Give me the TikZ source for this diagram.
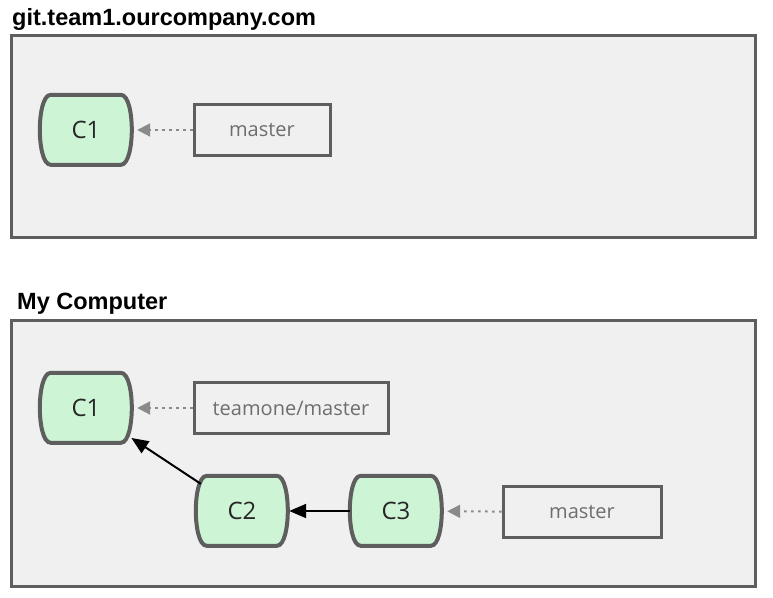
\documentclass[tikz,border=0pt]{standalone}
\usepackage{fontspec}
\setmainfont{Open Sans}
\newfontfamily\titlefont{Liberation Sans}
\usetikzlibrary{arrows.meta,backgrounds}
\definecolor{boxgray}{HTML}{F0F0F0}
\definecolor{edgegray}{HTML}{5E5E5E}
\definecolor{commitgreen}{HTML}{CDF4D5}
\definecolor{tipgray}{HTML}{8A8A8A}
\definecolor{labelgray}{HTML}{6E6E6E}
\begin{document}
\begin{tikzpicture}[x=1pt,y=1pt]
\tikzstyle{every node}+=[inner sep=0pt]
\tikzstyle{repo}=[draw=edgegray, fill=boxgray, line width=2.5pt, anchor=north west]
\tikzstyle{repotitle}=[anchor=base west, font=\titlefont\bfseries\fontsize{23.5}{28}\selectfont]
\tikzstyle{commit}=[minimum width=92pt, minimum height=70pt, font=\fontsize{24}{28}\selectfont, text=black!85]
\tikzstyle{commitshape}=[draw=edgegray, fill=commitgreen, line width=4pt]
\tikzstyle{branch}=[draw=edgegray, line width=3pt, minimum height=51pt, font=\fontsize{20}{24}\selectfont, text=labelgray]
\tikzstyle{ref}=[tipgray, line width=2pt, dash pattern=on 2.5pt off 4.5pt, -{Triangle[length=13pt,width=13pt]}, shorten >=5pt]
\tikzstyle{parent}=[black, line width=2pt, -{Triangle[length=17pt,width=14pt]}]
\useasboundingbox (0,0) rectangle (773,-597);
% server
\node [repotitle] (servertitle) at (12,-25) {git.team1.ourcompany.com};
\node [commit] (sc1) at (86,-130) {C1};
\node [branch, minimum width=136pt] (smaster) at (262,-130) {master};
\draw [ref] (smaster) -- (sc1);
% local
\node [repotitle] (localtitle) at (17,-309) {My Computer};
\node [commit] (c1) at (86,-408) {C1};
\node [commit] (c2) at (242,-511) {C2};
\node [commit] (c3) at (396,-511) {C3};
\node [branch, minimum width=194pt] (teamone) at (291,-408) {teamone/master};
\node [branch, minimum width=158pt] (master) at (582,-512) {master};
\draw [ref] (teamone) -- (c1);
\draw [ref] (master) -- (c3);
\draw [parent, shorten <=-6pt, shorten >=-1pt] (c2) -- (c1);
\draw [parent, shorten >=1pt] (c3) -- (c2);
% boxes and commit outlines behind the labels
\begin{scope}[on background layer]
\node [repo, minimum width=744pt, minimum height=202pt] (server) at (10,-34) {};
\node [repo, minimum width=744pt, minimum height=266pt] (local) at (10,-319) {};
\foreach \c in {sc1,c1,c2,c3}
  \draw [commitshape] (\c.north west) ++(11,0) -- ++(70,0)
    .. controls +(8,0) and +(0,15) .. ++(11,-35)
    .. controls +(0,-15) and +(8,0) .. ++(-11,-35) -- ++(-70,0)
    .. controls +(-8,0) and +(0,-15) .. ++(-11,35)
    .. controls +(0,15) and +(-8,0) .. ++(11,35) -- cycle;
\end{scope}
\end{tikzpicture}
\end{document}
